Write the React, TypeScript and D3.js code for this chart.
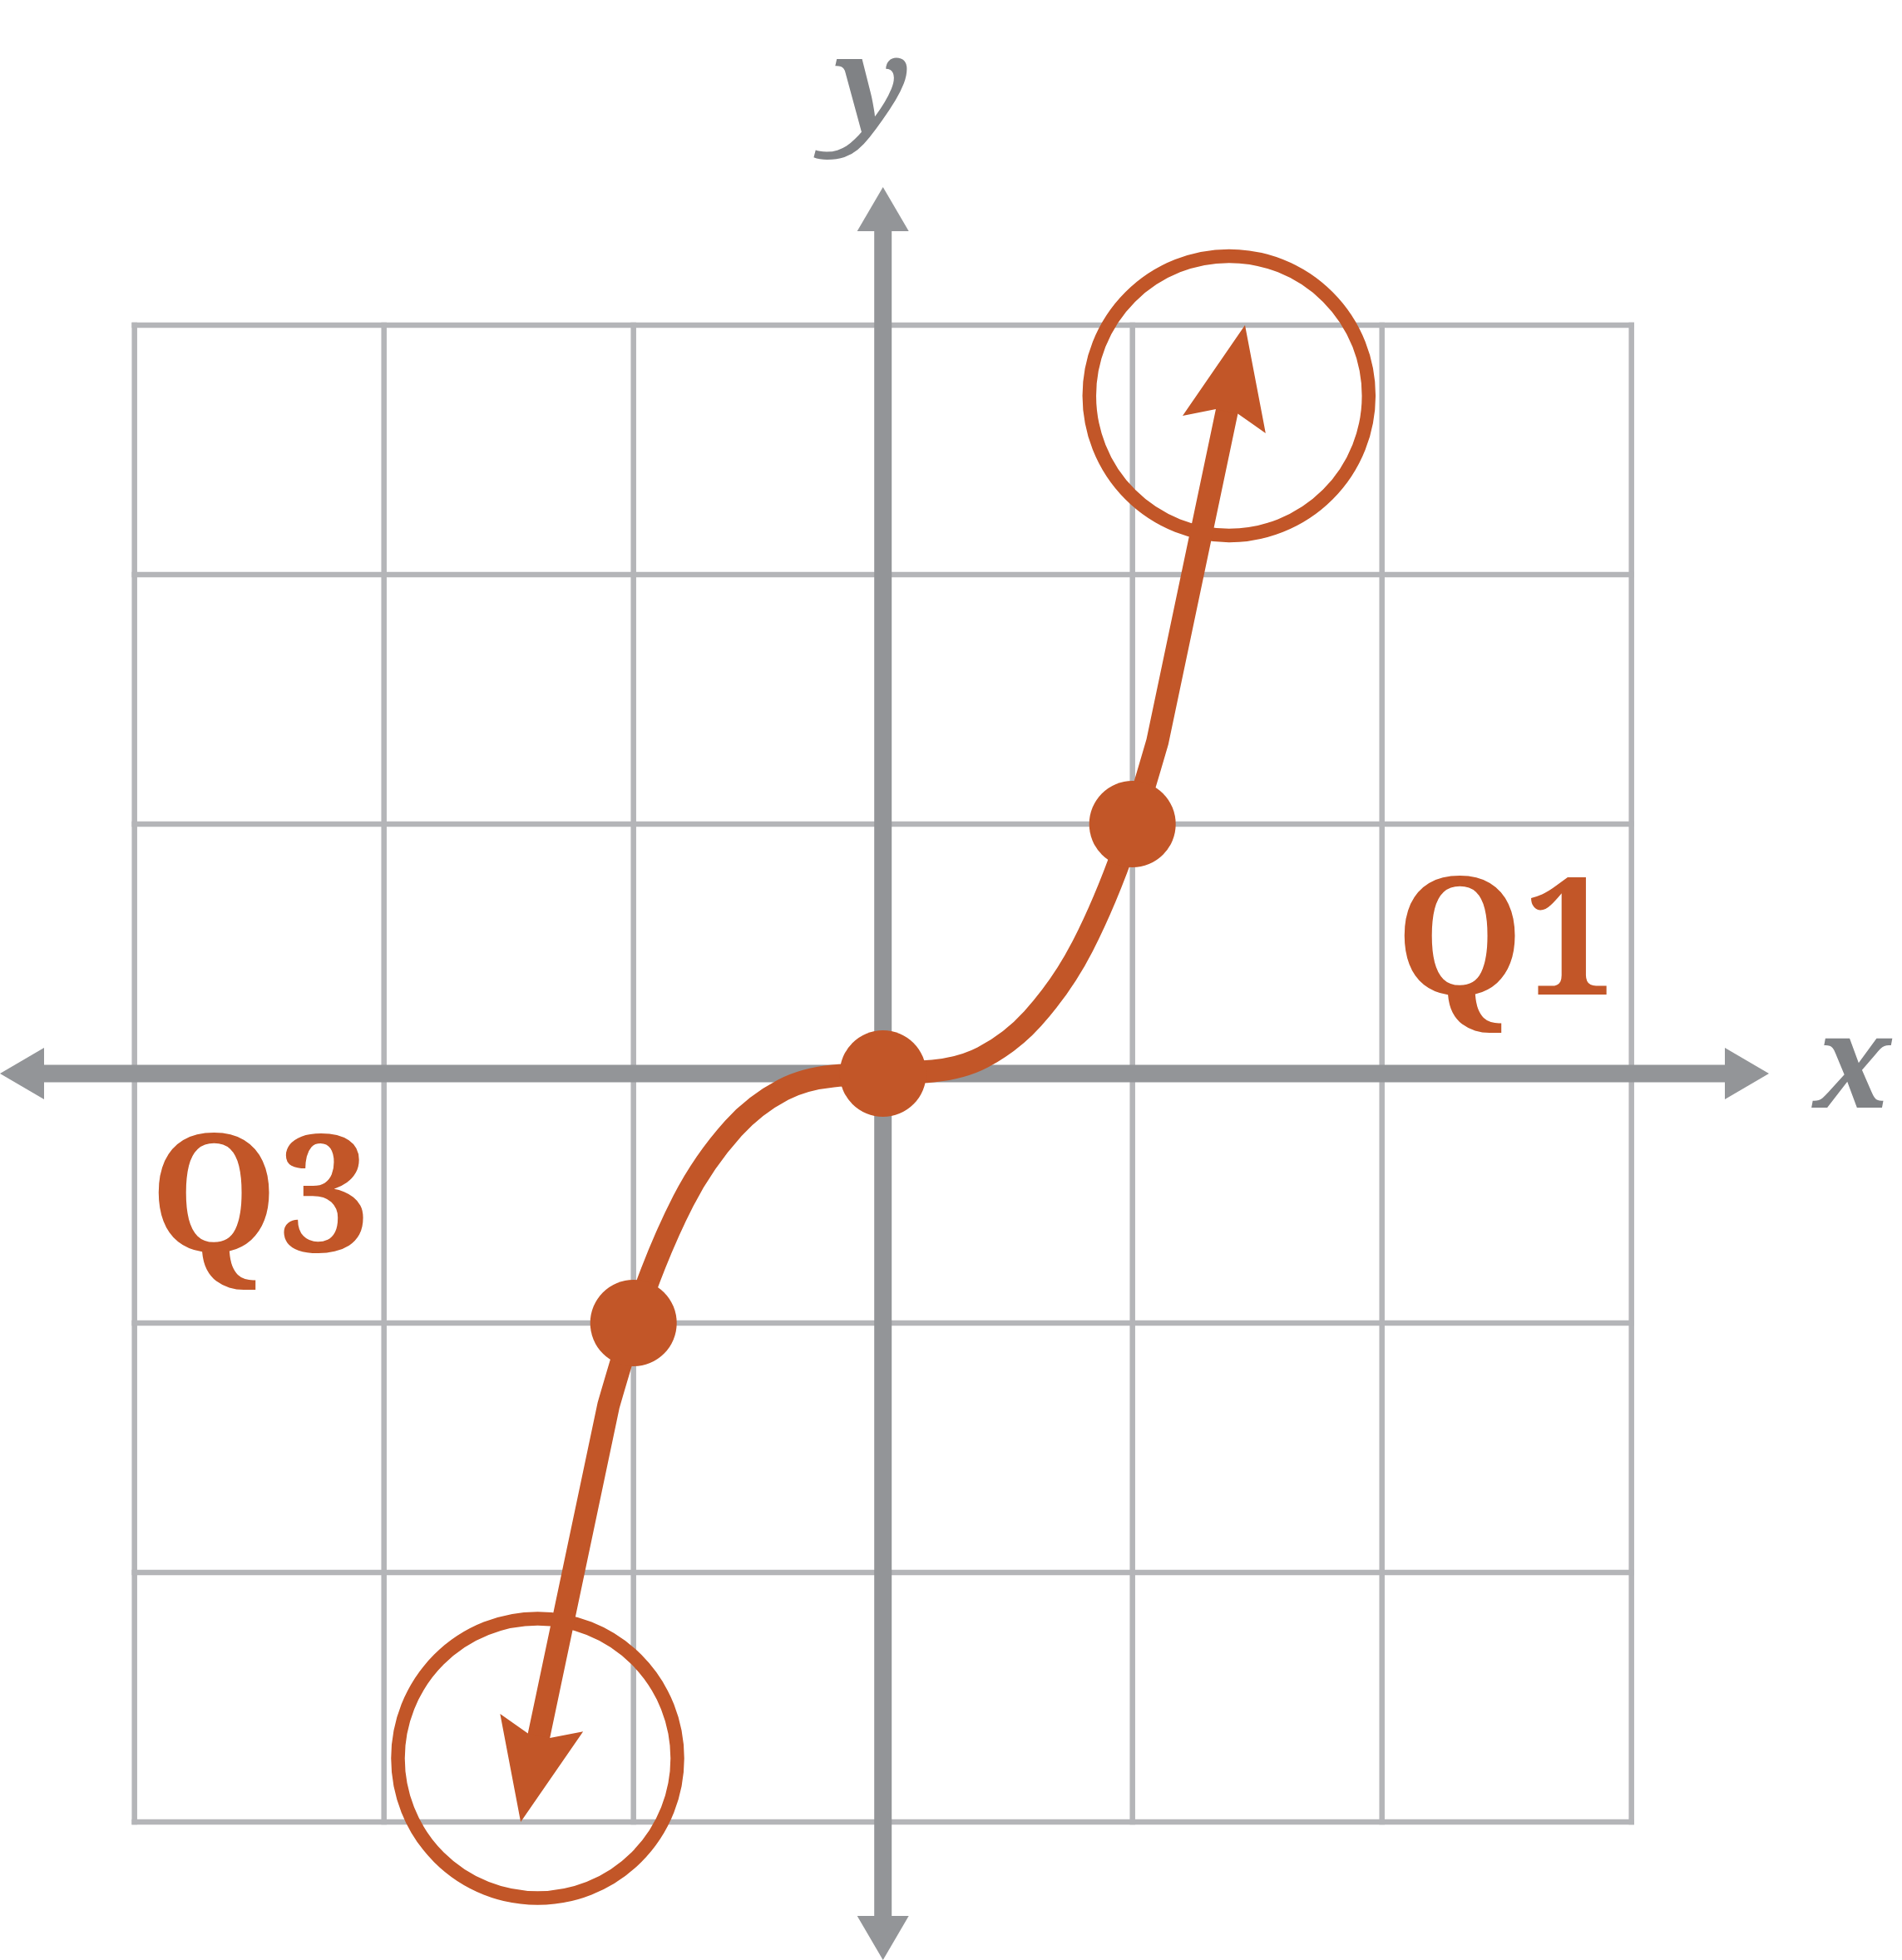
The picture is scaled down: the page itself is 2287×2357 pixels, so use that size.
import React from "react";
import * as d3 from "d3";

// chart values
const gridTicks = [-3, -2, -1, 0, 1, 2, 3];

// points along the cubic-shaped curve (middle part)
const curveX = [-1.1, -1.0, -0.8, -0.6, -0.4, -0.2, 0, 0.2, 0.4, 0.6, 0.8, 1.0, 1.1];
const curveY = [-1.33, -1.0, -0.51, -0.22, -0.065, -0.01, 0, 0.01, 0.065, 0.22, 0.51, 1.0, 1.33];

// straight arrow tips at both ends of the curve
const tipX = [1.451, -1.452];
const tipY = [3.0, -3.0];

// marked points on the curve
const dotX = [-1, 0, 1];
const dotY = [-1, 0, 1];

// open circles around the arrow tips
const ringX = [1.387, -1.384];
const ringY = [2.717, -2.745];

// quadrant labels
const quadText = ["Q1", "Q3"];
const quadX = [2.054, -2.939];
const quadY = [0.317, -0.713];

const W = 2287;
const H = 2357;
const ORANGE = "#c25628";
const AXIS = "#939598";
const GRID = "#b4b5b8";
const LABEL = "#808285";
const SERIF = "'Noto Serif', 'Liberation Serif', serif";

const App = () => {
  const x = d3.scaleLinear().domain([-3, 3]).range([161.7, 1961.7]);
  const y = d3.scaleLinear().domain([-3, 3]).range([2191, 391]);

  const pts: [number, number][] = curveX.map((d, i) => [x(d), y(curveY[i])]);
  const mid = d3.line().curve(d3.curveMonotoneX)(pts) || "";

  // arrowhead geometry, pixels
  const headLen = 122;
  const headHalf = 51;
  const notchBack = 106;
  const notchHalf = 13.5;

  // build the arrow ends
  const ends = tipX.map((tx, i) => {
    const from = i === 0 ? pts[pts.length - 1] : pts[0];
    const tip: [number, number] = [x(tx), y(tipY[i])];
    const dx = tip[0] - from[0];
    const dy = tip[1] - from[1];
    const len = Math.sqrt(dx * dx + dy * dy);
    const ux = dx / len, uy = dy / len;
    const px = -uy, py = ux;
    const at = (back: number, side: number): [number, number] => [
      tip[0] - ux * back + px * side,
      tip[1] - uy * back + py * side,
    ];
    const head = [
      tip,
      at(headLen, headHalf),
      at(notchBack, notchHalf),
      at(notchBack, -notchHalf),
      at(headLen, -headHalf),
    ];
    return { shaftEnd: at(100, 0), head };
  });

  const curvePath =
    `M${ends[1].shaftEnd[0]},${ends[1].shaftEnd[1]}L` +
    mid.slice(1) +
    `L${ends[0].shaftEnd[0]},${ends[0].shaftEnd[1]}`;

  // axes with arrowheads
  const ox = x(0), oy = y(0);
  const axLeft = 0, axRight = 2127, axTop = 225, axBottom = 2357;
  const aLen = 53, aHalf = 31;

  return (
    <svg width={W} height={H} style={{ position: "absolute", left: 0, top: 0 }}>
      <rect width={W} height={H} fill="#ffffff" />

      {/* grid */}
      <g stroke={GRID} strokeWidth={6.5} strokeLinecap="square">
        {gridTicks.map((t) => (
          <line key={"v" + t} x1={x(t)} x2={x(t)} y1={y(-3)} y2={y(3)} />
        ))}
        {gridTicks.map((t) => (
          <line key={"h" + t} x1={x(-3)} x2={x(3)} y1={y(t)} y2={y(t)} />
        ))}
      </g>

      {/* axes */}
      <g fill={AXIS} stroke="none">
        <rect x={axLeft + aLen} y={oy - 10.5} width={axRight - aLen - (axLeft + aLen)} height={21} />
        <rect x={ox - 10.5} y={axTop + aLen} width={21} height={axBottom - aLen - (axTop + aLen)} />
        <polygon points={`${axLeft},${oy} ${axLeft + aLen},${oy - aHalf} ${axLeft + aLen},${oy + aHalf}`} />
        <polygon points={`${axRight},${oy} ${axRight - aLen},${oy - aHalf} ${axRight - aLen},${oy + aHalf}`} />
        <polygon points={`${ox},${axTop} ${ox - aHalf},${axTop + aLen} ${ox + aHalf},${axTop + aLen}`} />
        <polygon points={`${ox},${axBottom} ${ox - aHalf},${axBottom - aLen} ${ox + aHalf},${axBottom - aLen}`} />
      </g>

      {/* axis labels */}
      <text x={2228} y={1332} textAnchor="middle" fill={LABEL}
        fontFamily={SERIF} fontStyle="italic" fontWeight="bold" fontSize={155}>x</text>
      <text x={1050} y={155} textAnchor="middle" fill={LABEL}
        fontFamily={SERIF} fontStyle="italic" fontWeight="bold" fontSize={155}>y</text>

      {/* rings */}
      {ringX.map((cx, i) => (
        <circle key={"r" + i} cx={x(cx)} cy={y(ringY[i])} r={168}
          fill="none" stroke={ORANGE} strokeWidth={16.5} />
      ))}

      {/* curve */}
      <path d={curvePath} fill="none" stroke={ORANGE} strokeWidth={27} strokeLinejoin="round" />
      {ends.map((e, i) => (
        <polygon key={"a" + i} points={e.head.map((p) => p.join(",")).join(" ")} fill={ORANGE} />
      ))}

      {/* dots */}
      {dotX.map((dx, i) => (
        <circle key={"d" + i} cx={x(dx)} cy={y(dotY[i])} r={52} fill={ORANGE} />
      ))}

      {/* quadrant labels */}
      {quadText.map((t, i) => (
        <text key={t} x={x(quadX[i])} y={y(quadY[i])} fill={ORANGE}
          fontFamily={SERIF} fontWeight="bold" fontSize={196}>{t}</text>
      ))}
    </svg>
  );
};

export default App;
